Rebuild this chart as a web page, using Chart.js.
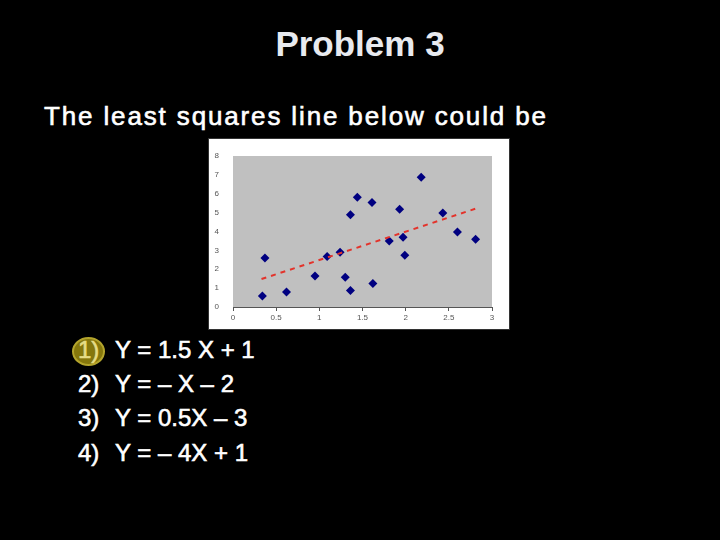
<!DOCTYPE html>
<html>
<head>
<meta charset="utf-8">
<script src="https://cdn.jsdelivr.net/npm/chart.js@4/dist/chart.umd.min.js"></script>
<style>
  body { margin: 0; background: #000; width: 720px; height: 540px; overflow: hidden; position: relative;
         font-family: "Liberation Sans", Arial, sans-serif; color: #fff; }
  .t { position: absolute; white-space: nowrap; line-height: 24px; font-size: 24px;
       -webkit-text-stroke: 0.6px currentColor; }
  #title { position: absolute; left: 0; width: 720px; text-align: center; top: 26px;
           font-size: 35px; line-height: 35px; color: #e8eaef; font-weight: bold; }
  #box { position: absolute; left: 208px; top: 138px; width: 302px; height: 192px;
         background: #fff; border: 1px solid #333; box-sizing: border-box; }
  #hl { position: absolute; left: 72px; top: 337px; width: 33px; height: 29px; border-radius: 50%;
        background: #85770c; border: 2px solid #b3a42c; box-sizing: border-box; }
</style>
</head>
<body>
<div id="title">Problem 3</div>
<div class="t" id="sub" style="left:44px; top:103px; font-size:26px; line-height:26px;">The least squares line below could be</div>
<div id="box"><canvas id="myChart" width="300" height="190"></canvas></div>
<div id="hl"></div>
<div id="answers"></div>
<script>
// scatter points
const xs = [0.34, 0.37, 0.62, 0.95, 1.09, 1.24, 1.30, 1.36, 1.36, 1.44, 1.61, 1.62, 1.81, 1.93, 1.97, 1.99, 2.18, 2.43, 2.60, 2.81];
const ys = [0.58, 2.60, 0.80, 1.64, 2.67, 2.90, 1.57, 0.88, 4.89, 5.81, 5.53, 1.25, 3.50, 5.18, 3.69, 2.74, 6.87, 4.98, 3.98, 3.59];
// dashed least squares line, end points
const trendX = [0.33, 2.83];
const trendY = [1.48, 5.24];
const xTicks = [0, 0.5, 1, 1.5, 2, 2.5, 3];
const yTicks = [0, 1, 2, 3, 4, 5, 6, 7, 8];
const nums = ['1)', '2)', '3)', '4)'];
const answers = ['Y = 1.5 X + 1', 'Y = \u2013 X \u2013 2', 'Y = 0.5X \u2013 3', 'Y = \u2013 4X + 1'];

// fit subtitle width
const sub = document.getElementById('sub');
const txt = sub.textContent;
const w0 = sub.getBoundingClientRect().width;
sub.style.letterSpacing = ((502 - w0) / (txt.length - 1)) + 'px';

const ans = document.getElementById('answers');
nums.forEach((n, i) => {
  const top = 338 + i * 34.2;
  const a = document.createElement('div');
  a.className = 't';
  a.style.left = '78px';
  a.style.top = top + 'px';
  a.textContent = n;
  if (i === 0) a.style.color = '#e6dc86';
  ans.appendChild(a);
  const b = document.createElement('div');
  b.className = 't';
  b.style.left = '115px';
  b.style.top = top + 'px';
  b.textContent = answers[i];
  ans.appendChild(b);
});

const plotBg = {
  id: 'plotBg',
  beforeDraw(chart) {
    const { ctx, chartArea: a } = chart;
    ctx.save();
    ctx.fillStyle = '#c0c0c0';
    ctx.fillRect(a.left, a.top, a.right - a.left, a.bottom - a.top);
    ctx.restore();
  }
};

const tickFont = { family: 'Liberation Sans', size: 8 };

new Chart(document.getElementById('myChart'), {
  type: 'scatter',
  data: {
    datasets: [
      {
        type: 'line',
        data: trendX.map((x, i) => ({ x: x, y: trendY[i] })),
        borderColor: '#e3332b',
        borderWidth: 2,
        borderDash: [5, 5],
        pointRadius: 0,
        fill: false,
        order: 0,
      },
      {
        data: xs.map((x, i) => ({ x: x, y: ys[i] })),
        pointStyle: 'rectRot',
        pointRadius: 4.5,
        backgroundColor: '#000080',
        borderColor: '#000080',
        borderWidth: 0,
        order: 1,
      },
    ],
  },
  options: {
    responsive: false,
    animation: false,
    layout: { padding: { top: 17, right: 17, left: 0, bottom: 0 } },
    plugins: { legend: { display: false }, tooltip: { enabled: false } },
    scales: {
      x: {
        type: 'linear',
        min: 0,
        max: 3,
        afterBuildTicks: (s) => { s.ticks = xTicks.map((v) => ({ value: v })); },
        afterFit: (s) => { s.height = 22; },
        grid: { drawOnChartArea: false, tickLength: 4, color: '#555' },
        border: { color: '#555' },
        ticks: { font: tickFont, color: '#555', padding: 2, maxRotation: 0, callback: (v) => String(v) },
      },
      y: {
        min: 0,
        max: 8,
        afterBuildTicks: (s) => { s.ticks = yTicks.map((v) => ({ value: v })); },
        afterFit: (s) => { s.width = 24; },
        grid: { display: false },
        border: { display: false },
        ticks: { font: tickFont, color: '#555', padding: 6 },
      },
    },
  },
  plugins: [plotBg],
});
</script>
</body>
</html>
